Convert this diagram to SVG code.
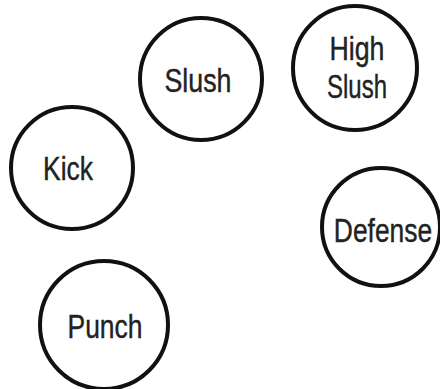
<svg xmlns="http://www.w3.org/2000/svg" width="440" height="389" viewBox="0 0 440 389">
<style>
.n circle{fill:#fff;stroke:#111;stroke-width:4}
.n text{font-family:"Liberation Sans",Arial,sans-serif;font-size:33px;fill:#222;stroke:#222;stroke-width:0.4;text-anchor:middle}
</style>
<rect width="440" height="389" fill="#fff"/>
<g id="connectors"/>
<g id="slush" class="n"><circle cx="201" cy="79" r="61"/><text x="198" y="92" textLength="67" lengthAdjust="spacingAndGlyphs">Slush</text></g>
<g id="high-slush" class="n"><circle cx="355" cy="68" r="62"/><text x="357" y="60" textLength="55" lengthAdjust="spacingAndGlyphs">High</text><text x="357" y="98" textLength="60" lengthAdjust="spacingAndGlyphs">Slush</text></g>
<g id="kick" class="n"><circle cx="72" cy="168" r="61"/><text x="68" y="180" textLength="50" lengthAdjust="spacingAndGlyphs">Kick</text></g>
<g id="defense" class="n"><circle cx="381" cy="227" r="59"/><text transform="translate(383 242) scale(0.8 1)" x="0" y="0">Defense</text></g>
<g id="punch" class="n"><circle cx="104" cy="325" r="64"/><text x="105" y="338" textLength="75" lengthAdjust="spacingAndGlyphs">Punch</text></g>
</svg>
